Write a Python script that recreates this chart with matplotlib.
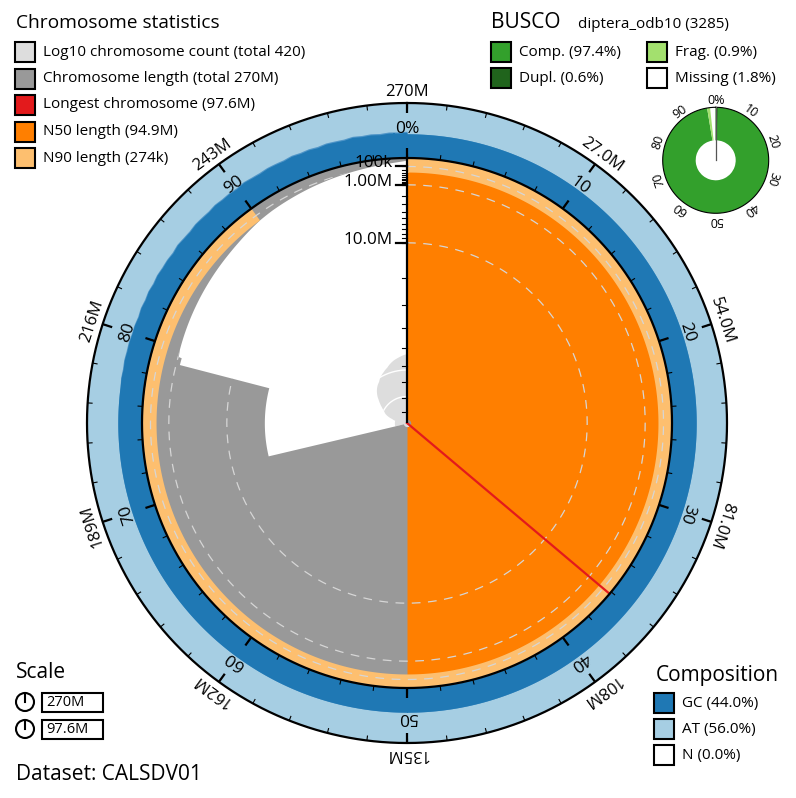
import numpy as np
import matplotlib
matplotlib.use('Agg')
import matplotlib.pyplot as plt
from matplotlib.patches import Rectangle, Circle

plt.rcParams['font.family'] = ['Open Sans', 'DejaVu Sans']

# ---- assembly stats ----
dataset = 'CALSDV01'
total_mb = 270.0
n_chrom = 420
longest_mb = 97.6
n50_mb = 94.9
n90_mb = 0.274

# big chromosomes, cumulative % span and length
chrom_start_pct = [0.0, 36.15, 71.3, 79.0]
chrom_end_pct = [36.15, 71.3, 79.0, 79.5]
chrom_len_mb = [97.6, 94.9, 20.8, 1.25]

# tail of small scaffolds: length at cumulative %
tail_pct = [79.5, 80, 81, 82, 83, 84, 85, 86, 87, 88, 89, 90,
            91, 92, 93, 94, 95, 96, 97, 98, 99, 100]
tail_len_mb = [1.0, 0.92, 0.86, 0.8, 0.74, 0.68, 0.62, 0.56, 0.5, 0.43, 0.35, 0.274,
               0.23, 0.2, 0.17, 0.14, 0.115, 0.09, 0.068, 0.045, 0.025, 0.006]

# scaffold count reached at cumulative %
count_pct = [0, 36.15, 36.15, 71.3, 71.3, 78.4, 79.5, 80.5, 81.5, 83, 84, 85, 86,
             87.3, 88.5, 89.5, 90.5, 91.6, 93, 94.5, 96.6, 98, 99, 100]
count_n = [1, 1, 2, 2, 3, 3, 4, 6, 8, 10.5, 14, 19, 26,
           40, 55, 68, 80, 105, 135, 175, 272, 330, 380, 420]

# GC content (%) per position, tail is noisy
gc_mean = 44.0
gc_tail_start = 77.0
gc_tail_pct = np.arange(77.0, 100.01, 0.5)
gc_tail = [44.0, 44.5, 43.6, 44.8, 44.0, 44.6, 43.9, 44.6, 43.4, 45.2, 44.1, 45.8, 44.3, 46.0,
           44.9, 45.5, 44.2, 46.3, 45.0, 44.4, 46.1, 45.3, 44.7, 46.5, 45.2, 45.9, 44.6, 46.8,
           45.4, 44.8, 46.2, 45.7, 44.9, 46.6, 45.1, 46.0, 44.5, 46.4, 45.6, 44.9, 46.9, 45.3,
           46.1, 44.7, 46.3, 45.5, 46.8]
gc_tail_hi = [44.0, 45.3, 44.8, 45.9, 45.4, 45.9, 45.1, 45.6, 44.8, 46.4, 45.6, 47.0, 45.9, 47.3,
              46.5, 46.9, 46.0, 47.8, 46.7, 46.2, 47.6, 47.1, 46.5, 48.0, 47.0, 47.6, 46.6, 48.4,
              47.3, 46.9, 48.0, 47.6, 47.0, 48.5, 47.2, 48.0, 46.8, 48.3, 47.6, 47.1, 48.8, 47.4,
              48.1, 46.9, 48.3, 47.6, 48.7]
comp_gc, comp_at, comp_n = 44.0, 56.0, 0.0

scale_labels = ['270M', '27.0M', '54.0M', '81.0M', '108M', '135M', '162M', '189M', '216M', '243M']
axis_major_mb = [0.1, 1, 10]
axis_major_lab = ['100k', '1.00M', '10.0M']

busco_lineage = 'diptera_odb10 (3285)'
busco_comp, busco_dupl, busco_frag, busco_miss = 97.4, 0.6, 0.9, 1.8

# colours
c_count, c_len, c_long, c_n50, c_n90 = '#dddddd', '#999999', '#e31a1c', '#ff7f00', '#fdbf6f'
c_gc, c_at, c_gc_rng = '#1f78b4', '#a6cee3', '#4f95c8'
c_comp, c_dupl, c_frag = '#33a02c', '#20641c', '#a3e06e'

# ---- geometry ----
W, H = 796, 798
cx, cy = 407, 423
R = 265.0       # snail radius
R_ring = 320.0  # outer edge of composition ring
RMAX = 345.0

fig = plt.figure(figsize=(W / 100, H / 100), dpi=100)
ax = fig.add_axes([(cx - RMAX) / W, (H - cy - RMAX) / H, 2 * RMAX / W, 2 * RMAX / H],
                  projection='polar')
ax.set_theta_zero_location('N')
ax.set_theta_direction(-1)
ax.set_rlim(0, RMAX)
ax.set_axis_off()


def th(pct):
    return np.asarray(pct) / 100.0 * 2 * np.pi


def depth(mb):
    return R * np.sqrt(np.asarray(mb) / longest_mb)


p = np.linspace(0, 100, 4001)
t = th(p)

# length per position
length = np.interp(p, tail_pct, tail_len_mb)
for s, e, L in zip(chrom_start_pct, chrom_end_pct, chrom_len_mb):
    length[(p >= s) & (p < e)] = L

# log10 count spiral
cnt = np.interp(p, count_pct, count_n)
r_cnt = R / 10 * np.log10(cnt)
cnt_poly = ax.fill_between(t, 0, r_cnt, color=c_count, lw=0, zorder=1)
for k in [1, 2]:
    ln, = ax.plot(t, np.full_like(t, R / 10 * k), color='white', lw=1, zorder=2)
    ln.set_clip_path(cnt_poly.get_paths()[0], cnt_poly.get_transform())

# lengths
len_poly = ax.fill_between(t, R - depth(length), R, color=c_len, lw=0, zorder=2)
m50 = p <= 50
ax.fill_between(t[m50], R - depth(n50_mb), R, color=c_n50, lw=0, zorder=3)
m90 = p <= 90
ax.fill_between(t[m90], R - depth(n90_mb), R, color=c_n90, lw=0, zorder=4)

tc = np.linspace(0, 2 * np.pi, 721)
for mb in axis_major_mb:
    ln, = ax.plot(tc, np.full_like(tc, R - depth(mb)), color='#d6d6d6', lw=0.9,
                  ls=(0, (7, 6)), zorder=5)
    ln.set_clip_path(len_poly.get_paths()[0], len_poly.get_transform())

ax.plot([th(longest_mb / total_mb * 100)] * 2, [0, R], color=c_long, lw=1.6, zorder=6)

# composition ring
gc = np.where(p < gc_tail_start, gc_mean, np.interp(p, gc_tail_pct, gc_tail))
gc_hi = np.where(p < gc_tail_start, gc_mean, np.interp(p, gc_tail_pct, gc_tail_hi))
ring_w = R_ring - R
ax.fill_between(t, R, R_ring, color=c_at, lw=0, zorder=2)
ax.fill_between(t, R, R + gc_hi / 100 * ring_w, color=c_gc_rng, lw=0, zorder=3)
ax.fill_between(t, R, R + gc / 100 * ring_w, color=c_gc, lw=0, zorder=4)

ax.plot(tc, np.full_like(tc, R), color='black', lw=1.6, zorder=7)
ax.plot(tc, np.full_like(tc, R_ring), color='black', lw=1.6, zorder=7)

minor = np.arange(0, 100, 2)
major = np.arange(0, 100, 10)
ax.vlines(th(minor), R, R + 5, color='black', lw=0.8, zorder=7)
ax.vlines(th(major), R, R + 10, color='black', lw=1.6, zorder=7)
ax.vlines(th(minor), R_ring - 5, R_ring, color='black', lw=0.8, zorder=7)
ax.vlines(th(major), R_ring - 10, R_ring, color='black', lw=1.6, zorder=7)
ax.vlines(0, 0, R, color='black', lw=1.6, zorder=8)

for i, pc in enumerate(major):
    ang = pc / 100 * 360
    lab = '0%' if pc == 0 else str(pc)
    ax.text(th(pc), 294, lab, rotation=-ang, rotation_mode='anchor',
            ha='center', va='center', fontsize=12.5, zorder=9)
    ax.text(th(pc), 331, scale_labels[i], rotation=-ang, rotation_mode='anchor',
            ha='center', va='center', fontsize=12, zorder=9)

# ---- BUSCO donut ----
bx, by, br, bri = 715.7, 160.3, 53.0, 20.0
bax = fig.add_axes([(bx - 55) / W, (H - by - 55) / H, 110 / W, 110 / H], projection='polar')
bax.set_theta_zero_location('N')
bax.set_theta_direction(-1)
bax.set_rlim(0, 55)
bax.set_axis_off()
segs = [(0, busco_comp, c_comp), (0, busco_dupl, c_dupl),
        (busco_comp, busco_comp + busco_frag, c_frag)]
for a, b, col in segs:
    bax.bar(th((a + b) / 2), br - bri, width=th(b - a), bottom=bri, color=col, lw=0)
bax.plot(tc, np.full_like(tc, br), color='black', lw=0.8)
bax.plot([0, 0], [0, br], color='#555555', lw=0.9)
for pc in range(0, 100, 10):
    lab = '0%' if pc == 0 else str(pc)
    bax.text(th(pc), 60, lab, rotation=-pc / 100 * 360, rotation_mode='anchor',
             ha='center', va='center', fontsize=9)

# ---- overlay for legends and radial axis ----
ov = fig.add_axes([0, 0, 1, 1])
ov.set_xlim(0, W)
ov.set_ylim(H, 0)
ov.set_axis_off()

for mb in [0.1 * k for k in range(1, 10)] + list(range(1, 10)) + list(range(10, 100, 10)):
    if mb > longest_mb:
        continue
    y = cy - (R - depth(mb))
    ov.plot([cx - 5, cx], [y, y], color='black', lw=0.8)
for mb, lab in zip(axis_major_mb, axis_major_lab):
    y = cy - (R - depth(mb))
    ov.plot([cx - 11, cx], [y, y], color='black', lw=1.6)
    ov.text(cx - 14, y + 1, lab, ha='right', va='baseline', fontsize=12.3)


def key(x, y, col, label):
    ov.add_patch(Rectangle((x, y), 20, 20, facecolor=col, edgecolor='black', lw=1.5))
    ov.text(x + 28, y + 10, label, ha='left', va='center', fontsize=11)


ov.text(16, 23, 'Chromosome statistics', ha='left', va='center', fontsize=13.8)
leg = [(c_count, 'Log10 chromosome count (total %d)' % n_chrom),
       (c_len, 'Chromosome length (total %dM)' % total_mb),
       (c_long, 'Longest chromosome (%.1fM)' % longest_mb),
       (c_n50, 'N50 length (%.1fM)' % n50_mb),
       (c_n90, 'N90 length (%dk)' % round(n90_mb * 1000))]
for i, (col, lab) in enumerate(leg):
    key(15, 42 + 26.5 * i, col, lab)

ov.text(491, 23, 'BUSCO', ha='left', va='center', fontsize=15)
ov.text(578, 24, busco_lineage, ha='left', va='center', fontsize=11)
key(491, 42, c_comp, 'Comp. (%.1f%%)' % busco_comp)
key(491, 68, c_dupl, 'Dupl. (%.1f%%)' % busco_dupl)
key(647, 42, c_frag, 'Frag. (%.1f%%)' % busco_frag)
key(647, 68, 'white', 'Missing (%.1f%%)' % busco_miss)

ov.text(656, 675, 'Composition', ha='left', va='center', fontsize=15)
key(654, 693, c_gc, 'GC (%.1f%%)' % comp_gc)
key(654, 719, c_at, 'AT (%.1f%%)' % comp_at)
key(654, 745, 'white', 'N (%.1f%%)' % comp_n)

ov.text(16, 673, 'Scale', ha='left', va='center', fontsize=15)
for yy, lab in [(702, '270M'), (729, '97.6M')]:
    ov.add_patch(Circle((25, yy), 9, facecolor='white', edgecolor='black', lw=1.5))
    ov.plot([25, 25], [yy, yy - 9], color='black', lw=1.5)
    ov.add_patch(Rectangle((42, yy - 9.5), 61, 19, facecolor='white', edgecolor='black', lw=1.5))
    ov.text(46, yy + 0.5, lab, ha='left', va='center', fontsize=10.5)

ov.text(16, 775, 'Dataset: ' + dataset, ha='left', va='center', fontsize=15)

fig.savefig('out.png', dpi=100)
